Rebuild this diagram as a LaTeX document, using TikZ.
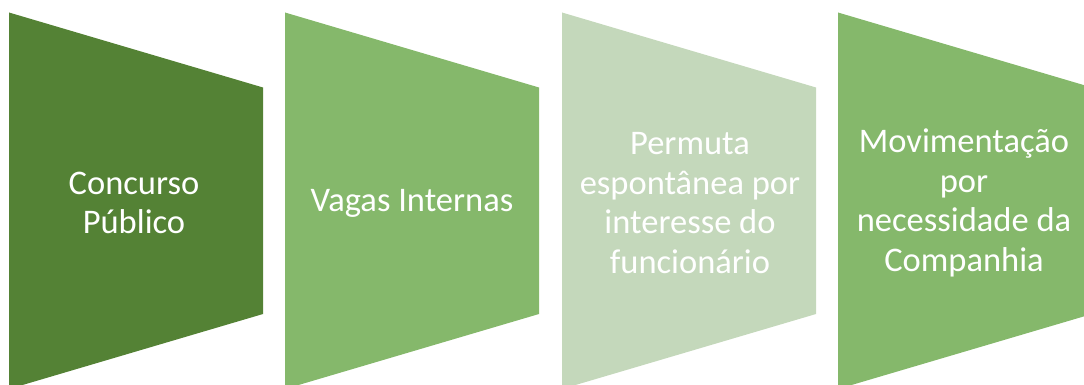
\documentclass[tikz,border=0pt]{standalone}
\usepackage{fontspec}
\setmainfont{Carlito}
\definecolor{darkgreen}{HTML}{548235}
\definecolor{midgreen}{HTML}{85B86B}
\definecolor{palegreen}{HTML}{C4D8BB}
\tikzset{
  label text/.style={text=white,align=center,font=\fontsize{34.5}{39.5}\selectfont,inner sep=0pt}
}
\begin{document}
\begin{tikzpicture}[x=1pt,y=1pt]
\useasboundingbox (0,0) rectangle (1084,384);
\clip (0,0) rectangle (1084,384);

\fill[darkgreen] (9,371.5) -- (263,296.5) -- (263,70) -- (9,-5) -- cycle;
\node[label text] (concurso) at (134,181) {Concurso\\Público};

\fill[midgreen] (285,371.5) -- (539,296.5) -- (539,70) -- (285,-5) -- cycle;
\node[label text] (vagas) at (412,181) {Vagas Internas};

\fill[palegreen] (562,371.5) -- (816,296.5) -- (816,70) -- (562,-5) -- cycle;
\node[label text] (permuta) at (690,181) {Permuta\\espontânea por\\interesse do\\funcionário};

\fill[midgreen] (838,371.5) -- (1092,296.5) -- (1092,70) -- (838,-5) -- cycle;
\node[label text] (movimentacao) at (964,181) {Movimentação\\por\\necessidade da\\Companhia};
\end{tikzpicture}
\end{document}
